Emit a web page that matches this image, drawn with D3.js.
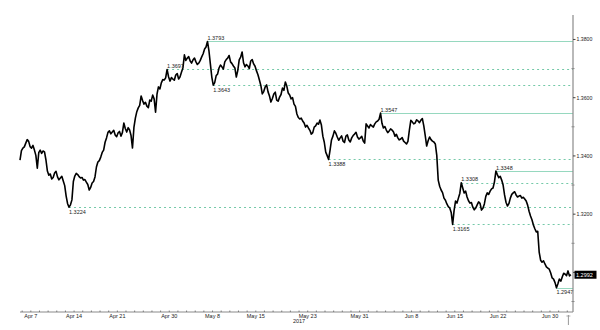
<!DOCTYPE html>
<html>
<head>
<meta charset="utf-8">
<script src="https://cdn.jsdelivr.net/npm/d3@7"></script>
<style>
  html, body { margin: 0; padding: 0; background: #fff; }
  svg { display: block; font-family: "Liberation Sans", Arial, sans-serif; }
</style>
</head>
<body>
<svg id="chart" width="600" height="330"></svg>
<script>
// ---- DATA ----
// Price series, sampled every 1/6 trading day, starting 1.25 trading days before Apr 7, 2017
const seriesStart = -1.25;
const seriesStep = 1 / 6;
const prices = [
  1.3386, 1.3418, 1.3427, 1.3431, 1.3444, 1.3456, 1.3450, 1.3432, 1.3427, 1.3436, 1.3420, 1.3402, 1.3358, 1.3411, 1.3420, 1.3409, 1.3417, 1.3414, 1.3386, 1.3348,
  1.3334, 1.3338, 1.3321, 1.3326, 1.3341, 1.3347, 1.3328, 1.3318, 1.3324, 1.3330, 1.3314, 1.3298, 1.3262, 1.3236, 1.3224, 1.3232, 1.3249, 1.3312, 1.3331, 1.3340,
  1.3336, 1.3329, 1.3324, 1.3326, 1.3317, 1.3319, 1.3310, 1.3302, 1.3283, 1.3292, 1.3307, 1.3312, 1.3328, 1.3362, 1.3379, 1.3384, 1.3396, 1.3412, 1.3420, 1.3447,
  1.3462, 1.3481, 1.3486, 1.3476, 1.3482, 1.3488, 1.3472, 1.3466, 1.3479, 1.3484, 1.3468, 1.3480, 1.3513, 1.3494, 1.3482, 1.3497, 1.3489, 1.3470, 1.3427, 1.3498,
  1.3530, 1.3552, 1.3565, 1.3574, 1.3606, 1.3590, 1.3578, 1.3584, 1.3571, 1.3566, 1.3592, 1.3588, 1.3609, 1.3596, 1.3550, 1.3612, 1.3637, 1.3630, 1.3651, 1.3662,
  1.3661, 1.3668, 1.3697, 1.3672, 1.3657, 1.3669, 1.3664, 1.3660, 1.3678, 1.3683, 1.3664, 1.3672, 1.3688, 1.3703, 1.3747, 1.3728, 1.3736, 1.3741, 1.3726, 1.3719,
  1.3730, 1.3736, 1.3723, 1.3714, 1.3719, 1.3728, 1.3740, 1.3751, 1.3767, 1.3774, 1.3793, 1.3762, 1.3716, 1.3671, 1.3643, 1.3652, 1.3675, 1.3681, 1.3702, 1.3712,
  1.3706, 1.3698, 1.3723, 1.3731, 1.3736, 1.3745, 1.3723, 1.3717, 1.3709, 1.3702, 1.3671, 1.3693, 1.3730, 1.3739, 1.3757, 1.3720, 1.3706, 1.3714, 1.3709, 1.3700,
  1.3726, 1.3731, 1.3716, 1.3708, 1.3692, 1.3679, 1.3661, 1.3642, 1.3613, 1.3621, 1.3637, 1.3644, 1.3620, 1.3606, 1.3585, 1.3597, 1.3613, 1.3619, 1.3592, 1.3588,
  1.3602, 1.3611, 1.3633, 1.3625, 1.3654, 1.3640, 1.3616, 1.3609, 1.3596, 1.3600, 1.3578, 1.3570, 1.3544, 1.3532, 1.3527, 1.3530, 1.3520, 1.3513, 1.3499, 1.3505,
  1.3496, 1.3488, 1.3475, 1.3480, 1.3499, 1.3503, 1.3513, 1.3509, 1.3523, 1.3506, 1.3468, 1.3447, 1.3413, 1.3401, 1.3388, 1.3420, 1.3455, 1.3468, 1.3486, 1.3478,
  1.3465, 1.3454, 1.3462, 1.3469, 1.3451, 1.3446, 1.3468, 1.3472, 1.3455, 1.3448, 1.3462, 1.3470, 1.3475, 1.3481, 1.3465, 1.3458, 1.3462, 1.3467, 1.3451, 1.3444,
  1.3510, 1.3503, 1.3496, 1.3508, 1.3503, 1.3499, 1.3510, 1.3517, 1.3520, 1.3526, 1.3547, 1.3512, 1.3496, 1.3501, 1.3489, 1.3480, 1.3486, 1.3493, 1.3489, 1.3482,
  1.3468, 1.3474, 1.3462, 1.3455, 1.3458, 1.3463, 1.3451, 1.3446, 1.3441, 1.3450, 1.3489, 1.3522, 1.3517, 1.3510, 1.3513, 1.3524, 1.3520, 1.3514, 1.3523, 1.3528,
  1.3503, 1.3470, 1.3434, 1.3452, 1.3465, 1.3456, 1.3451, 1.3448, 1.3441, 1.3402, 1.3317, 1.3296, 1.3283, 1.3274, 1.3255, 1.3248, 1.3235, 1.3226, 1.3221, 1.3206,
  1.3165, 1.3212, 1.3245, 1.3238, 1.3255, 1.3272, 1.3308, 1.3290, 1.3273, 1.3279, 1.3259, 1.3246, 1.3238, 1.3240, 1.3224, 1.3215, 1.3221, 1.3232, 1.3242, 1.3237,
  1.3214, 1.3220, 1.3235, 1.3261, 1.3273, 1.3268, 1.3279, 1.3287, 1.3290, 1.3311, 1.3348, 1.3336, 1.3325, 1.3330, 1.3317, 1.3300, 1.3266, 1.3241, 1.3228, 1.3236,
  1.3255, 1.3268, 1.3273, 1.3277, 1.3266, 1.3259, 1.3262, 1.3264, 1.3255, 1.3258, 1.3252, 1.3245, 1.3231, 1.3210, 1.3194, 1.3181, 1.3163, 1.3150, 1.3139, 1.3141,
  1.3070, 1.3042, 1.3035, 1.3040, 1.3029, 1.3019, 1.3015, 1.3011, 1.2998, 1.2981, 1.2977, 1.2965, 1.2947, 1.2961, 1.2977, 1.2970, 1.2984, 1.2997, 1.2994, 1.2989,
  1.3005, 1.2988, 1.2992
];

// Annotated highs/lows: value, sample index, kind, line style
const levelValues  = [1.3793, 1.3697, 1.3643, 1.3224, 1.3388, 1.3547, 1.3165, 1.3308, 1.3348, 1.2947];
const levelIndex   = [130, 102, 134, 34, 214, 250, 300, 306, 330, 372];
const levelKind    = ["high", "high", "low", "low", "low", "high", "low", "high", "high", "low"];
const levelSolid   = [true, false, false, false, false, true, false, false, true, true];

const lastPrice = 1.2992;

// Axes
const dateTickLabels = ["Apr 7", "Apr 14", "Apr 21", "Apr 30", "May 8", "May 15", "May 23", "May 31", "Jun 8", "Jun 15", "Jun 22", "Jun 30"];
const dateTickDates  = ["2017-04-07", "2017-04-14", "2017-04-21", "2017-04-30", "2017-05-08", "2017-05-15", "2017-05-23", "2017-05-31", "2017-06-08", "2017-06-15", "2017-06-22", "2017-06-30"];
const yearLabel = "2017";
const yMajorTicks = [1.30, 1.32, 1.34, 1.36, 1.38];
const yMinorTicks = [1.29, 1.31, 1.33, 1.35, 1.37];

// ---- HELPERS ----
// trading-day index (weekdays since Apr 7, 2017)
function tradingIndex(dateStr) {
  const start = new Date(Date.UTC(2017, 3, 7));
  const end = new Date(dateStr + "T00:00:00Z");
  let n = 0;
  for (let d = new Date(start); d < end; d.setUTCDate(d.getUTCDate() + 1)) {
    const wd = d.getUTCDay();
    if (wd !== 0 && wd !== 6) n++;
  }
  return n;
}
const crisp = v => Math.round(v) + 0.5;

// ---- LAYOUT ----
const svg = d3.select("#chart");
const plotLeft = 20, plotRight = 573, plotTop = 15, plotBottom = 312;
const xEnd = 62.66;

const x = d3.scaleLinear().domain([seriesStart, xEnd]).range([plotLeft, plotRight]);
const y = d3.scaleLinear().domain([1.2864, 1.3884]).range([plotBottom, plotTop]);

const pts = prices.map((v, i) => ({ t: seriesStart + i * seriesStep, v }));

const solidColor = "#96d8bf";
const dashColor = "#74c9a8";

// level lines
const levels = levelValues.map((v, k) => ({
  v, t: seriesStart + levelIndex[k] * seriesStep, kind: levelKind[k], solid: levelSolid[k]
}));

svg.append("g").selectAll("line").data(levels).join("line")
  .attr("x1", d => x(d.t))
  .attr("x2", plotRight)
  .attr("y1", d => crisp(y(d.v)))
  .attr("y2", d => crisp(y(d.v)))
  .attr("stroke", d => d.solid ? solidColor : dashColor)
  .attr("stroke-width", 1)
  .attr("stroke-dasharray", d => d.solid ? null : "2,3");

// price line
svg.append("path")
  .datum(pts)
  .attr("fill", "none")
  .attr("stroke", "#000")
  .attr("stroke-width", 1.6)
  .attr("stroke-linejoin", "round")
  .attr("d", d3.line().x(d => x(d.t)).y(d => y(d.v)));

// level labels
svg.append("g").selectAll("text").data(levels).join("text")
  .attr("x", d => x(d.t))
  .attr("y", d => d.kind === "high" ? y(d.v) - 1.5 : y(d.v) + 6.5)
  .attr("font-size", 5.5)
  .attr("fill", "#222")
  .text(d => d.v.toFixed(4));

// y axis
const axisColor = "#8a8a8a";
svg.append("line")
  .attr("x1", plotRight).attr("x2", plotRight)
  .attr("y1", plotTop).attr("y2", plotBottom)
  .attr("stroke", axisColor).attr("stroke-width", 1.2);

svg.append("g").selectAll("line").data(yMajorTicks).join("line")
  .attr("x1", plotRight).attr("x2", plotRight + 2.5)
  .attr("y1", d => y(d)).attr("y2", d => y(d))
  .attr("stroke", "#444").attr("stroke-width", 1);

svg.append("g").selectAll("line").data(yMinorTicks).join("line")
  .attr("x1", plotRight - 1.5).attr("x2", plotRight + 1.5)
  .attr("y1", d => y(d)).attr("y2", d => y(d))
  .attr("stroke", axisColor).attr("stroke-width", 1);

const lastY = y(lastPrice);
// labels hidden behind the last-price box are not drawn
svg.append("g").selectAll("text")
  .data(yMajorTicks.filter(d => Math.abs(y(d) - lastY) > 8))
  .join("text")
  .attr("x", plotRight + 3.5)
  .attr("y", d => y(d) + 2)
  .attr("font-size", 5.2)
  .attr("fill", "#222")
  .text(d => d.toFixed(4));

// last price box
svg.append("rect")
  .attr("x", plotRight + 1.5).attr("y", lastY - 4)
  .attr("width", 22).attr("height", 8)
  .attr("fill", "#000");
svg.append("text")
  .attr("x", plotRight + 3).attr("y", lastY + 2)
  .attr("font-size", 5.5).attr("fill", "#fff")
  .text(lastPrice.toFixed(4));

// x axis
svg.append("line")
  .attr("x1", plotLeft).attr("x2", plotRight)
  .attr("y1", plotBottom).attr("y2", plotBottom)
  .attr("stroke", axisColor).attr("stroke-width", 1);

const dayTicks = d3.range(-1, 63);
svg.append("g").selectAll("line").data(dayTicks).join("line")
  .attr("x1", d => x(d)).attr("x2", d => x(d))
  .attr("y1", plotBottom - 1.5).attr("y2", plotBottom)
  .attr("stroke", "#666").attr("stroke-width", 0.8);

const dateTicks = dateTickLabels.map((lab, i) => ({ lab, t: tradingIndex(dateTickDates[i]) }));
svg.append("g").selectAll("text").data(dateTicks).join("text")
  .attr("x", d => x(d.t))
  .attr("y", plotBottom + 6)
  .attr("text-anchor", "middle")
  .attr("font-size", 5.5)
  .attr("fill", "#222")
  .text(d => d.lab);

svg.append("text")
  .attr("x", x(tradingIndex("2017-05-20")))
  .attr("y", plotBottom + 11)
  .attr("text-anchor", "middle")
  .attr("font-size", 5.5)
  .attr("fill", "#222")
  .text(yearLabel);

// current-time marker below axis
const nowX = x(seriesStart + (prices.length - 1) * seriesStep) - 2.5;
svg.append("line")
  .attr("x1", nowX).attr("x2", nowX)
  .attr("y1", plotBottom + 3).attr("y2", plotBottom + 13)
  .attr("stroke", "#999").attr("stroke-width", 1);
svg.append("line")
  .attr("x1", nowX - 2).attr("x2", nowX + 2)
  .attr("y1", plotBottom + 4).attr("y2", plotBottom + 4)
  .attr("stroke", "#999").attr("stroke-width", 0.8);
</script>
</body>
</html>
